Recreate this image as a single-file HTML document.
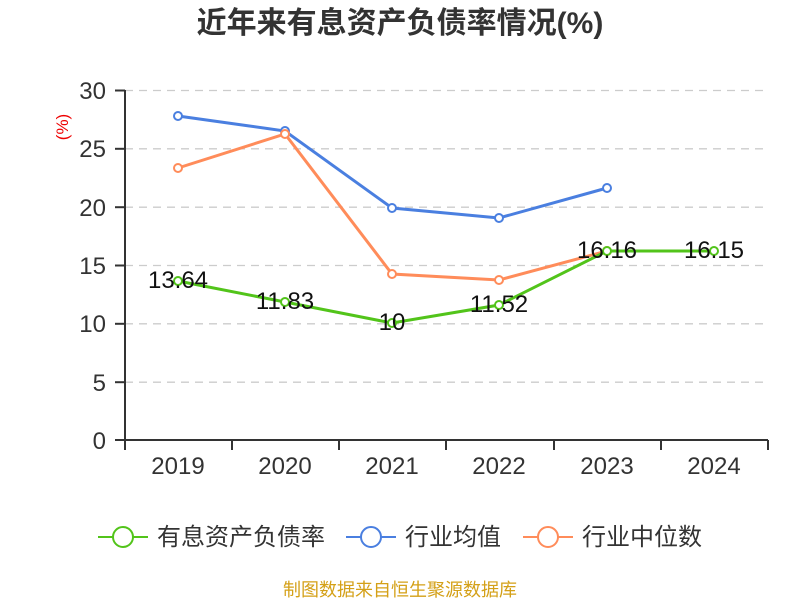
<!DOCTYPE html>
<html><head><meta charset="utf-8"><style>
body{margin:0;background:#fff;}
text{font-family:"Liberation Sans","Noto Sans CJK SC",sans-serif;}
</style></head><body>
<svg width="800" height="600" xmlns="http://www.w3.org/2000/svg">
<text x="400" y="33" text-anchor="middle" font-size="30" font-weight="bold" fill="#333">近年来有息资产负债率情况(%)</text>
<text transform="translate(68,127) rotate(-90)" text-anchor="middle" font-size="17" fill="#e00">(%)</text>
<g stroke="#ccc" stroke-dasharray="8,6" stroke-width="1.3">
<line x1="125" y1="90.5" x2="768" y2="90.5"/><line x1="125" y1="148.8" x2="768" y2="148.8"/>
<line x1="125" y1="207.2" x2="768" y2="207.2"/><line x1="125" y1="265.5" x2="768" y2="265.5"/>
<line x1="125" y1="323.8" x2="768" y2="323.8"/><line x1="125" y1="382.2" x2="768" y2="382.2"/>
</g>
<g stroke="#333" stroke-width="2">
<line x1="125" y1="90" x2="125" y2="441"/><line x1="124" y1="440" x2="768" y2="440"/>
<line x1="115" y1="90.5" x2="125" y2="90.5"/><line x1="115" y1="148.8" x2="125" y2="148.8"/><line x1="115" y1="207.2" x2="125" y2="207.2"/><line x1="115" y1="265.5" x2="125" y2="265.5"/><line x1="115" y1="323.8" x2="125" y2="323.8"/><line x1="115" y1="382.2" x2="125" y2="382.2"/><line x1="115" y1="440" x2="125" y2="440"/>
<line x1="125" y1="440" x2="125" y2="450"/><line x1="232" y1="440" x2="232" y2="450"/><line x1="339" y1="440" x2="339" y2="450"/><line x1="446" y1="440" x2="446" y2="450"/><line x1="554" y1="440" x2="554" y2="450"/><line x1="661" y1="440" x2="661" y2="450"/><line x1="768" y1="440" x2="768" y2="450"/>
</g>
<g font-size="24" fill="#333" text-anchor="end">
<text x="106" y="99">30</text><text x="106" y="157">25</text><text x="106" y="216">20</text><text x="106" y="274">15</text><text x="106" y="332">10</text><text x="106" y="391">5</text><text x="106" y="449">0</text>
</g>
<g font-size="24" fill="#333" text-anchor="middle">
<text x="178" y="474">2019</text><text x="285" y="474">2020</text><text x="392" y="474">2021</text><text x="499" y="474">2022</text><text x="607" y="474">2023</text><text x="714" y="474">2024</text>
</g>
<g fill="#fff" stroke-width="2">
<polyline fill="none" stroke="#4a7fe0" stroke-width="3" points="178,116 285,131 392,208 499,218 607,188"/>
<g stroke="#4a7fe0"><circle cx="178" cy="116" r="4"/><circle cx="285" cy="131" r="4"/><circle cx="392" cy="208" r="4"/><circle cx="499" cy="218" r="4"/><circle cx="607" cy="188" r="4"/></g>
<polyline fill="none" stroke="#ff8c5a" stroke-width="3" points="178,168 285,134 392,274 499,280 607,251"/>
<g stroke="#ff8c5a"><circle cx="178" cy="168" r="4"/><circle cx="285" cy="134" r="4"/><circle cx="392" cy="274" r="4"/><circle cx="499" cy="280" r="4"/><circle cx="607" cy="251" r="4"/></g>
<polyline fill="none" stroke="#52c41a" stroke-width="3" points="178,281 285,302 392,323 499,305 607,251 714,251"/>
<g stroke="#52c41a"><circle cx="178" cy="281" r="4"/><circle cx="285" cy="302" r="4"/><circle cx="392" cy="323" r="4"/><circle cx="499" cy="305" r="4"/><circle cx="607" cy="251" r="4"/><circle cx="714" cy="251" r="4"/></g>
</g>
<g font-size="24" fill="#111" text-anchor="middle">
<text x="178" y="288">13.64</text><text x="285" y="309">11.83</text><text x="392" y="330">10</text><text x="499" y="312">11.52</text><text x="607" y="258">16.16</text><text x="714" y="258">16.15</text>
</g>
<g stroke-width="2" fill="#fff">
<line x1="98" y1="537" x2="148" y2="537" stroke="#52c41a"/><circle cx="123" cy="537" r="10" stroke="#52c41a"/>
<line x1="346" y1="537" x2="396" y2="537" stroke="#4a7fe0"/><circle cx="371" cy="537" r="10" stroke="#4a7fe0"/>
<line x1="523" y1="537" x2="573" y2="537" stroke="#ff8c5a"/><circle cx="548" cy="537" r="10" stroke="#ff8c5a"/>
</g>
<g font-size="24" fill="#333">
<text x="157" y="545">有息资产负债率</text><text x="405" y="545">行业均值</text><text x="582" y="545">行业中位数</text>
</g>
<text x="400" y="596" text-anchor="middle" font-size="18" fill="#d4a017">制图数据来自恒生聚源数据库</text>
</svg>
</body></html>
